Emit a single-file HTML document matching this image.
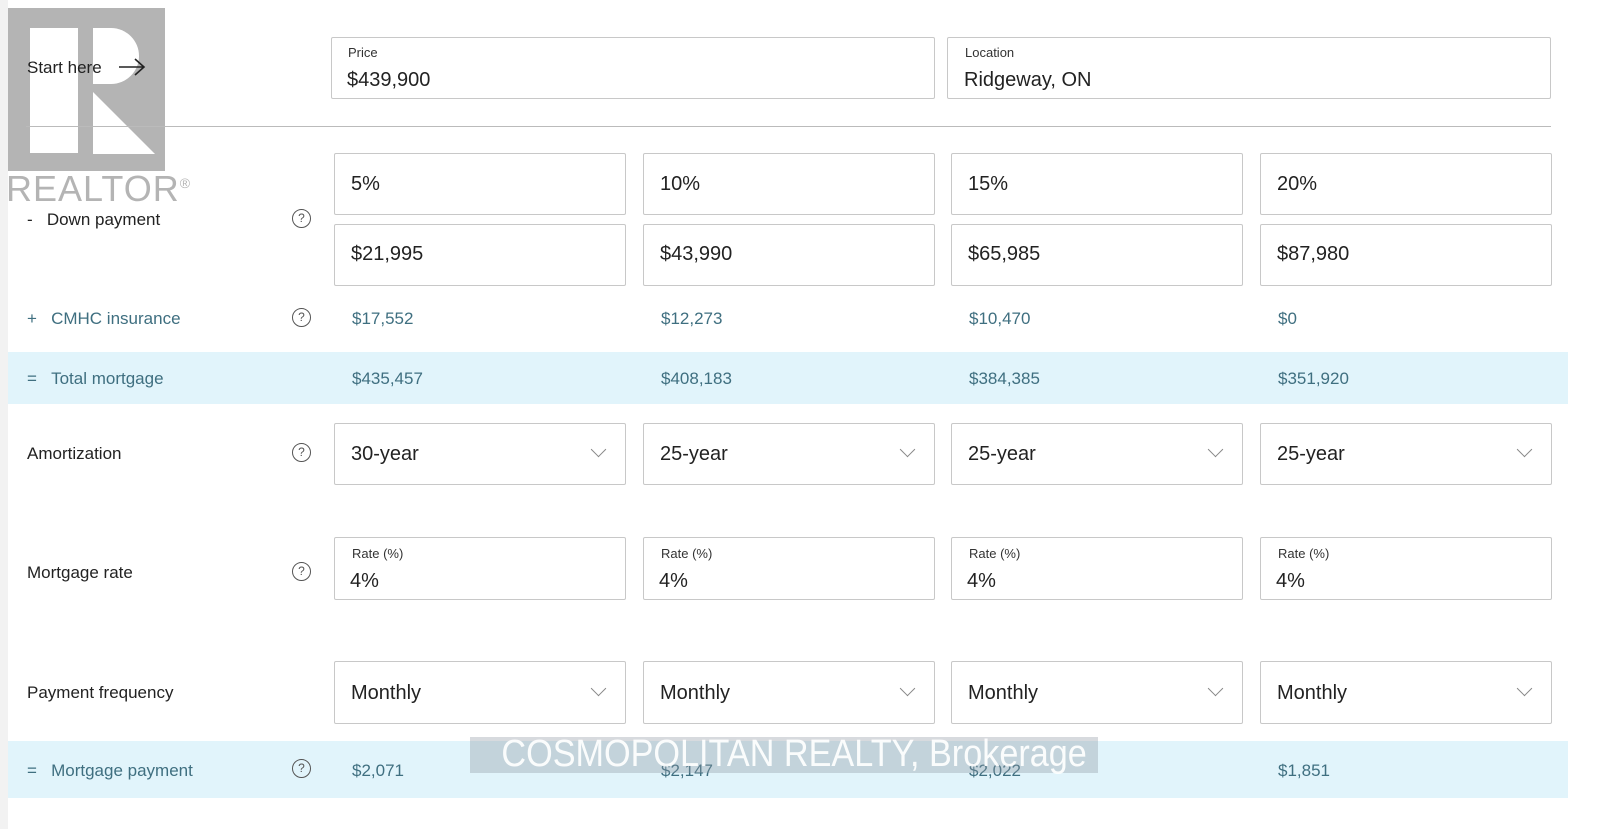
<!DOCTYPE html>
<html><head><style>
body{margin:0;width:1600px;height:829px;background:#fff;position:relative;overflow:hidden;font-family:"Liberation Sans",sans-serif;color:#222}
.a{position:absolute}
.box{position:absolute;border:1px solid #c8c8c8;border-radius:2px;background:#fff;box-sizing:border-box}
.v{position:absolute;font-size:20px;color:#222}
.lbl{position:absolute;font-size:13px;color:#333}
.row{position:absolute;font-size:17px;color:#222}
.teal{color:#3f6f80}
.q{position:absolute;width:17px;height:17px;border:1px solid #555;border-radius:50%;font-size:12px;text-align:center;line-height:17px;color:#555}
.band{position:absolute;left:8px;width:1560px;background:#e1f4fb}
.chev{position:absolute;width:10px;height:10px;border-right:1.3px solid #888;border-bottom:1.3px solid #888;transform:rotate(45deg)}
.num{position:absolute;font-size:17px;color:#3f6f80}
</style></head><body>
<div class="a" style="left:0;top:0;width:8px;height:829px;background:#f2f2f2"></div>
<div class="a" style="left:8px;top:8px;width:157px;height:163px;background:#b4b4b4"></div>
<div class="a" style="left:30px;top:28px;width:48px;height:125px;background:#fff"></div>
<div class="a" style="left:93px;top:28px;width:46px;height:56px;background:#fff;border-radius:0 30px 30px 0"></div>
<svg class="a" style="left:93px;top:92px" width="62" height="62"><polygon points="0,0 62,62 0,62" fill="#fff"/></svg>
<div class="a" style="left:6px;top:168px;font-size:36px;color:#b4b4b4;letter-spacing:1px">REALTOR<sup style="font-size:14px">®</sup></div>

<div class="row" style="left:27px;top:58px">Start here</div>
<svg class="a" style="left:117px;top:56px" width="30" height="22"><path d="M2 11H27M18 3L27 11L18 19" stroke="#222" stroke-width="1.6" fill="none"/></svg>
<div class="box" style="left:331px;top:37px;width:604px;height:62px"></div>
<div class="lbl" style="left:348px;top:45px">Price</div>
<div class="v" style="left:347px;top:69px">$439,900</div>
<div class="box" style="left:947px;top:37px;width:604px;height:62px"></div>
<div class="lbl" style="left:965px;top:45px">Location</div>
<div class="v" style="left:964px;top:69px">Ridgeway, ON</div>
<div class="a" style="left:26px;top:126px;width:1525px;height:1px;background:#bbb"></div>

<div class="row" style="left:27px;top:210px">-&nbsp;&nbsp;&nbsp;Down payment</div>
<div class="q" style="left:292px;top:209px">?</div>
<div class="row teal" style="left:27px;top:309px">+&nbsp;&nbsp;&nbsp;CMHC insurance</div>
<div class="q" style="left:292px;top:308px">?</div>
<div class="band" style="top:352px;height:52px"></div>
<div class="row teal" style="left:27px;top:369px">=&nbsp;&nbsp;&nbsp;Total mortgage</div>
<div class="row" style="left:27px;top:444px">Amortization</div>
<div class="q" style="left:292px;top:443px">?</div>
<div class="row" style="left:27px;top:563px">Mortgage rate</div>
<div class="q" style="left:292px;top:562px">?</div>
<div class="row" style="left:27px;top:683px">Payment frequency</div>
<div class="band" style="top:741px;height:57px"></div>
<div class="row teal" style="left:27px;top:761px">=&nbsp;&nbsp;&nbsp;Mortgage payment</div>
<div class="q" style="left:292px;top:759px">?</div>

<div id="cols"></div>
<script>
var xs=[334,643,951,1260],pct=["5%","10%","15%","20%"],dp=["$21,995","$43,990","$65,985","$87,980"],
ins=["$17,552","$12,273","$10,470","$0"],tot=["$435,457","$408,183","$384,385","$351,920"],
am=["30-year","25-year","25-year","25-year"],pay=["$2,071","$2,147","$2,022","$1,851"],h="";
for(var i=0;i<4;i++){var x=xs[i];
h+='<div class="box" style="left:'+x+'px;top:153px;width:292px;height:62px"></div><div class="v" style="left:'+(x+17)+'px;top:173px">'+pct[i]+'</div>';
h+='<div class="box" style="left:'+x+'px;top:224px;width:292px;height:62px"></div><div class="v" style="left:'+(x+17)+'px;top:243px">'+dp[i]+'</div>';
h+='<div class="num" style="left:'+(x+18)+'px;top:309px">'+ins[i]+'</div>';
h+='<div class="num" style="left:'+(x+18)+'px;top:369px">'+tot[i]+'</div>';
h+='<div class="box" style="left:'+x+'px;top:423px;width:292px;height:62px"></div><div class="v" style="left:'+(x+17)+'px;top:443px">'+am[i]+'</div><div class="chev" style="left:'+(x+259)+'px;top:444px"></div>';
h+='<div class="box" style="left:'+x+'px;top:537px;width:292px;height:63px"></div><div class="lbl" style="left:'+(x+18)+'px;top:546px">Rate (%)</div><div class="v" style="left:'+(x+16)+'px;top:570px">4%</div>';
h+='<div class="box" style="left:'+x+'px;top:661px;width:292px;height:63px"></div><div class="v" style="left:'+(x+17)+'px;top:682px">Monthly</div><div class="chev" style="left:'+(x+259)+'px;top:683px"></div>';
h+='<div class="num" style="left:'+(x+18)+'px;top:761px">'+pay[i]+'</div>';}
document.getElementById('cols').innerHTML=h;
</script>
<div class="a" style="left:470px;top:737px;width:628px;height:36px;background:rgba(140,150,160,0.35);overflow:hidden"></div>
<div class="a" style="left:470px;top:733px;width:628px;height:42px;color:rgba(255,255,255,0.92);font-size:38px;line-height:42px;text-align:center;white-space:nowrap;transform:scaleX(0.9);transform-origin:center">COSMOPOLITAN REALTY, Brokerage</div>
</body></html>
